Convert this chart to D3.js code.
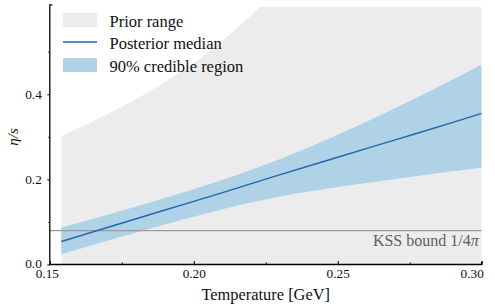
<!DOCTYPE html>
<html>
<head>
<meta charset="utf-8">
<script src="https://cdn.jsdelivr.net/npm/d3@7"></script>
<style>
  body { margin: 0; background: #fff; }
  svg { display: block; font-family: "Liberation Serif", "DejaVu Serif", serif; }
</style>
</head>
<body>
<div id="chart"></div>
<script>
// temperature grid (GeV) and eta/s values
const temps       = [0.154, 0.17, 0.19, 0.21, 0.23, 0.25, 0.27, 0.29, 0.30];
const medianVals  = [0.054, 0.087, 0.128, 0.169, 0.211, 0.252, 0.293, 0.334, 0.355];
const upperVals   = [0.087, 0.117, 0.156, 0.199, 0.248, 0.305, 0.368, 0.435, 0.470];
const lowerVals   = [0.024, 0.056, 0.094, 0.130, 0.160, 0.182, 0.201, 0.219, 0.228];

// prior range upper edge (lower edge is zero)
const priorTemps  = [0.154, 0.16, 0.17, 0.18, 0.19, 0.20, 0.21, 0.22, 0.23, 0.24, 0.26, 0.28, 0.30];
const priorUpper  = [0.302, 0.320, 0.353, 0.389, 0.429, 0.474, 0.526, 0.586, 0.656, 0.736, 0.920, 1.130, 1.360];

const kss = 1 / (4 * Math.PI);

const xMajor = [0.15, 0.20, 0.25, 0.30];
const xMinor = [0.175, 0.225, 0.275];
const yMajor = [0.0, 0.2, 0.4];
const yMinor = [0.1, 0.3, 0.5];

const legendLabels = ["Prior range", "Posterior median", "90% credible region"];

// -------------------------------
// Layout
// -------------------------------
const W = 495, H = 306;
const x = d3.scaleLinear().domain([0.15, 0.30]).range([49.8, 481.7]);
const y = d3.scaleLinear().domain([0, 0.61]).range([264.5, 4.9]);

const svg = d3.select("#chart").append("svg")
    .attr("width", W)
    .attr("height", H);

svg.append("defs").append("clipPath")
    .attr("id", "plotclip")
  .append("rect")
    .attr("x", x(0.15))
    .attr("y", 7)
    .attr("width", x(0.30) - x(0.15))
    .attr("height", y(0) - 7);

const plot = svg.append("g").attr("clip-path", "url(#plotclip)");

// prior range
const prior = priorTemps.map((t, i) => ({ t, hi: priorUpper[i] }));
plot.append("path")
    .datum(prior)
    .attr("fill", "#ececec")
    .attr("d", d3.area()
      .x(d => x(d.t))
      .y0(y(0))
      .y1(d => y(d.hi))
      .curve(d3.curveMonotoneX));

// posterior band + median
const post = temps.map((t, i) => ({ t, lo: lowerVals[i], hi: upperVals[i], med: medianVals[i] }));
plot.append("path")
    .datum(post)
    .attr("fill", "#afd2e7")
    .attr("d", d3.area()
      .x(d => x(d.t))
      .y0(d => y(d.lo))
      .y1(d => y(d.hi))
      .curve(d3.curveMonotoneX));

// KSS bound
plot.append("line")
    .attr("x1", x(0.15)).attr("x2", x(0.30))
    .attr("y1", y(kss)).attr("y2", y(kss))
    .attr("stroke", "#9a9a9a")
    .attr("stroke-width", 1.3);

plot.append("path")
    .datum(post)
    .attr("fill", "none")
    .attr("stroke", "#2166ae")
    .attr("stroke-width", 1.4)
    .attr("d", d3.line()
      .x(d => x(d.t))
      .y(d => y(d.med))
      .curve(d3.curveMonotoneX));

const kssLabel = svg.append("text")
    .attr("x", x(0.30) - 3)
    .attr("y", 246)
    .attr("text-anchor", "end")
    .attr("fill", "#606060")
    .style("font-size", "16px");
kssLabel.append("tspan").text("KSS bound 1/4");
kssLabel.append("tspan").style("font-style", "italic").text("π");

// -------------------------------
// Axes
// -------------------------------
const fmtX = d3.format(".2f");
const xAxis = svg.append("g")
    .attr("transform", `translate(0,${y(0)})`)
    .call(d3.axisBottom(x).tickValues(xMajor).tickFormat(fmtX)
      .tickSizeInner(-3.5).tickSizeOuter(0).tickPadding(3.8));
xAxis.select(".domain").remove();
xAxis.selectAll("text")
    .attr("dx", d => d === 0.15 ? -3 : d === 0.30 ? -10 : 0);

const xAxisMinor = svg.append("g")
    .attr("transform", `translate(0,${y(0)})`)
    .call(d3.axisBottom(x).tickValues(xMinor).tickFormat("")
      .tickSizeInner(-2).tickSizeOuter(0));
xAxisMinor.select(".domain").remove();

const yAxis = svg.append("g")
    .attr("transform", `translate(${x(0.15)},0)`)
    .call(d3.axisLeft(y).tickValues(yMajor).tickFormat(d3.format(".1f"))
      .tickSizeInner(2.5).tickSizeOuter(0).tickPadding(5.5));
yAxis.select(".domain").remove();
yAxis.selectAll("text")
    .attr("dy", d => d === 0 ? "0.2em" : "0.32em");

const yAxisMinor = svg.append("g")
    .attr("transform", `translate(${x(0.15)},0)`)
    .call(d3.axisLeft(y).tickValues(yMinor).tickFormat("")
      .tickSizeInner(1.5).tickSizeOuter(0));
yAxisMinor.select(".domain").remove();

// drop d3's default sans-serif axis font
[xAxis, xAxisMinor, yAxis, yAxisMinor].forEach(g => g.attr("font-family", null).attr("font-size", null));
svg.selectAll(".tick text")
    .style("font-size", "13.3px")
    .attr("fill", "#111");
svg.selectAll(".tick line").attr("stroke", "#000").attr("stroke-width", 1);

// frame: left and bottom spines
svg.append("path")
    .attr("fill", "none")
    .attr("stroke", "#000")
    .attr("stroke-width", 1.3)
    .attr("d", `M${x(0.15) + 2.5},${y(0.61)}H${x(0.15)}V${y(0)}H${x(0.30)}V${y(0) - 3}`);

// axis titles
svg.append("text")
    .attr("x", x(0.225))
    .attr("y", 300)
    .attr("text-anchor", "middle")
    .style("font-size", "16.4px")
    .attr("fill", "#111")
    .text("Temperature [GeV]");

svg.append("text")
    .attr("transform", "translate(18,137) rotate(-90)")
    .attr("text-anchor", "middle")
    .style("font-size", "15px")
    .style("font-style", "italic")
    .attr("fill", "#111")
    .text("η/s");

// -------------------------------
// Legend
// -------------------------------
const legend = svg.append("g");
legend.append("rect")
    .attr("x", 63).attr("y", 13).attr("width", 34).attr("height", 14)
    .attr("fill", "#ececec");
legend.append("line")
    .attr("x1", 63).attr("x2", 97).attr("y1", 42).attr("y2", 42)
    .attr("stroke", "#2166ae").attr("stroke-width", 1.4);
legend.append("rect")
    .attr("x", 63).attr("y", 58).attr("width", 34).attr("height", 14)
    .attr("fill", "#afd2e7");

legend.selectAll("text.lab")
  .data(legendLabels)
  .enter().append("text")
    .attr("class", "lab")
    .attr("x", 109.5)
    .attr("y", (d, i) => 26.6 + i * 22.5)
    .style("font-size", "16.5px")
    .attr("fill", "#111")
    .text(d => d);
</script>
</body>
</html>
